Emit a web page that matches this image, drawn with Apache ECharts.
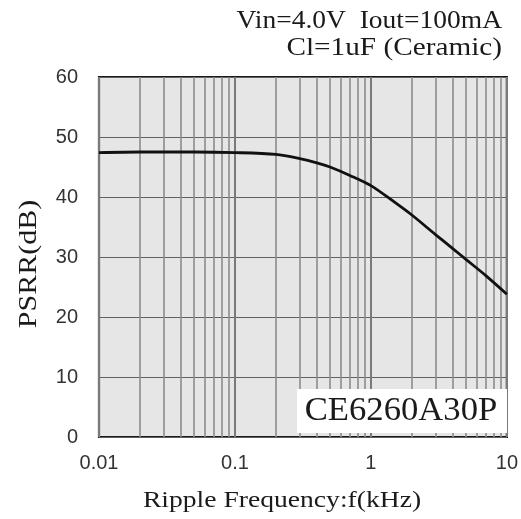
<!DOCTYPE html>
<html>
<head>
<meta charset="utf-8">
<script src="https://cdn.jsdelivr.net/npm/echarts@6/dist/echarts.min.js"></script>
<style>
  html, body { margin: 0; padding: 0; background: #fff; }
  #chart { width: 521px; height: 519px; }
</style>
</head>
<body>
<div id="chart"></div>
<script>
// ripple frequency (kHz) and PSRR (dB)
var freq = [0.01, 0.02, 0.05, 0.1, 0.2, 0.3, 0.4, 0.5, 0.7, 1, 1.5, 2, 3, 4, 5, 7, 10]
var psrr = [47.4, 47.5, 47.5, 47.4, 47.1, 46.4, 45.7, 45.0, 43.6, 41.9, 39.1, 37.0, 33.7, 31.4, 29.6, 26.9, 23.8]
var yTicks = [0, 10, 20, 30, 40, 50, 60]
var xTickLabels = ['0.01', '0.1', '1', '10']
// minor log gridlines 2..9 in every decade
var minorGrid = [0.02, 0.03, 0.04, 0.05, 0.06, 0.07, 0.08, 0.09,
  0.2, 0.3, 0.4, 0.5, 0.6, 0.7, 0.8, 0.9,
  2, 3, 4, 5, 6, 7, 8, 9]

var chart = echarts.init(document.getElementById('chart'))
var serif = '"Liberation Serif", "DejaVu Serif", serif'
var sans = '"Liberation Sans", Arial, sans-serif'

// small helper for the stretched serif texts of the datasheet
function label(text, x, y, size, sx, align, rot) {
  return {
    type: 'text',
    x: x,
    y: y,
    scaleX: sx,
    rotation: rot || 0,
    z: 11,
    style: {
      text: text,
      font: size + 'px ' + serif,
      fill: '#1a1a1a',
      textAlign: align,
      textVerticalAlign: 'middle'
    }
  }
}

var option = {
  animation: false,
  grid: {
    left: 99,
    right: 12,
    top: 77,
    bottom: 82,
    show: true,
    backgroundColor: '#e6e6e6',
    borderColor: '#1a1a1a',
    borderWidth: 2.2
  },
  xAxis: {
    type: 'log',
    logBase: 10,
    min: 0.01,
    max: 10,
    axisLine: { show: false },
    axisTick: { show: false },
    axisLabel: {
      fontFamily: sans,
      fontSize: 20,
      color: '#333',
      margin: 16,
      formatter: function (v) {
        var i = Math.round(Math.log10(v)) + 2
        return xTickLabels[i]
      }
    },
    splitLine: { show: true, lineStyle: { color: '#7a7a7a', width: 2 } }
  },
  yAxis: {
    type: 'value',
    min: yTicks[0],
    max: yTicks[yTicks.length - 1],
    interval: 10,
    axisLine: { show: false },
    axisTick: { show: false },
    axisLabel: { fontFamily: sans, fontSize: 20, color: '#333', margin: 21 },
    splitLine: { show: true, lineStyle: { color: '#606060', width: 1.2 } }
  },
  series: [
    {
      type: 'line',
      data: [],
      silent: true,
      markLine: {
        silent: true,
        symbol: 'none',
        label: { show: false },
        lineStyle: { color: '#8c8c8c', width: 1.6, type: 'solid' },
        data: minorGrid.map(function (v) { return { xAxis: v } })
      }
    },
    {
      type: 'line',
      data: freq.map(function (f, i) { return [f, psrr[i]] }),
      smooth: 0.3,
      symbol: 'none',
      lineStyle: { color: '#111', width: 2.8 },
      z: 5
    }
  ],
  graphic: [
    label('Vin=4.0V  Iout=100mA', 502, 21, 25, 1.10, 'right'),
    label('Cl=1uF (Ceramic)', 502, 48, 25, 1.17, 'right'),
    label('PSRR(dB)', 29, 264, 25, 1.2, 'center', Math.PI / 2),
    label('Ripple Frequency:f(kHz)', 282, 501, 24, 1.15, 'center'),
    {
      type: 'rect', x: 297, y: 389, z: 10,
      shape: { width: 210, height: 44 },
      style: { fill: '#fff' }
    },
    label('CE6260A30P', 401, 411, 33, 1.05, 'center')
  ]
}
chart.setOption(option)
</script>
</body>
</html>
